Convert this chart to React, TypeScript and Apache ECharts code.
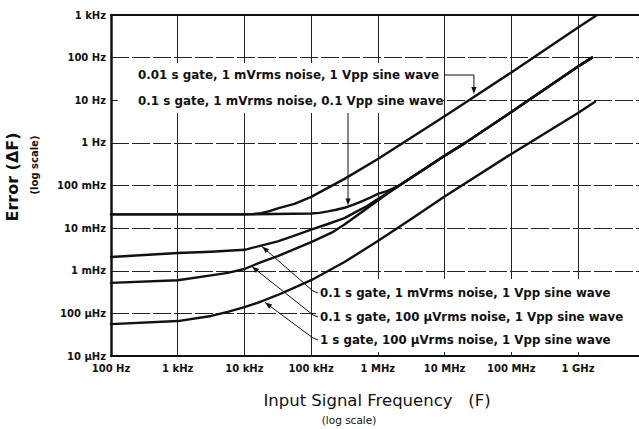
import React, { useEffect, useRef } from "react";
import * as echarts from "echarts";

const FONT = "'DejaVu Sans', 'Liberation Sans', Arial, sans-serif";
const INK = "#111";

// Axis tick labels (one per decade)
const xTickLabels = ["100 Hz", "1 kHz", "10 kHz", "100 kHz", "1 MHz", "10 MHz", "100 MHz", "1 GHz"]; // 10^2 .. 10^9
const xFirstExp = 2;
const yTickLabels = ["10 µHz", "100 µHz", "1 mHz", "10 mHz", "100 mHz", "1 Hz", "10 Hz", "100 Hz", "1 kHz"]; // 10^-5 .. 10^3
const yFirstExp = -5;

const xMin = 100;
const xMax = 8.2e9;
const yMin = 1e-5;
const yMax = 1000;

// 0.01 s gate, 1 mVrms noise, 1 Vpp sine wave
const c1Freq = [100, 1e3, 1e4, 1.33e4, 1.78e4, 2.37e4, 3.16e4, 5.62e4, 1e5, 1.78e5, 3.16e5, 1e6, 1e7, 1e8, 1e9, 1.93e9];
const c1Err = [0.021, 0.021, 0.021, 0.0213, 0.0225, 0.025, 0.029, 0.037, 0.054, 0.088, 0.143, 0.42, 4.2, 45, 510, 1000];

// 0.1 s gate, 1 mVrms noise, 0.1 Vpp sine wave
const c2Freq = [100, 1e3, 1e4, 1e5, 1.33e5, 1.78e5, 2.37e5, 3.16e5, 4.22e5, 5.62e5, 7.5e5, 1e6, 1.33e6, 1.7e6, 2.15e6, 1e7, 2.04e7, 1e8, 1e9, 1.62e9];
const c2Err = [0.021, 0.021, 0.021, 0.022, 0.0228, 0.0247, 0.027, 0.03, 0.035, 0.042, 0.051, 0.0635, 0.073, 0.086, 0.103, 0.5, 1.0, 5.3, 62, 100];

// 0.1 s gate, 1 mVrms noise, 1 Vpp sine wave
const c3Freq = [100, 1e3, 3.16e3, 1e4, 1.78e4, 3.16e4, 5.62e4, 1e5, 1.78e5, 3.16e5, 4.7e5, 6.9e5, 1e6, 1.7e6, 2.15e6, 1e7, 2.04e7, 1e8, 1e9, 1.62e9];
const c3Err = [0.0021, 0.0026, 0.0028, 0.0031, 0.0039, 0.0049, 0.0067, 0.0092, 0.0125, 0.0172, 0.024, 0.033, 0.048, 0.081, 0.103, 0.5, 1.0, 5.3, 62, 100];

// 0.1 s gate, 100 µVrms noise, 1 Vpp sine wave
const c4Freq = [100, 1e3, 3.16e3, 5.62e3, 1e4, 1.78e4, 3.16e4, 5.62e4, 1e5, 2.14e5, 3.16e5, 6.9e5, 1e6, 1.7e6, 2.15e6, 1e7, 2.04e7, 1e8, 1e9, 1.62e9];
const c4Err = [0.00052, 0.0006, 0.00078, 0.00089, 0.0011, 0.0016, 0.0022, 0.0032, 0.0047, 0.0082, 0.0122, 0.0293, 0.0443, 0.08, 0.103, 0.5, 1.0, 5.3, 62, 100];

// 1 s gate, 100 µVrms noise, 1 Vpp sine wave
const c5Freq = [100, 1e3, 3.16e3, 5.62e3, 1e4, 1.78e4, 3.16e4, 5.62e4, 1e5, 3.16e5, 1e6, 3.16e6, 1e7, 1e8, 1e9, 1.8e9];
const c5Err = [0.000056, 0.000066, 0.000087, 0.000108, 0.00014, 0.00019, 0.00027, 0.0004, 0.0006, 0.0016, 0.005, 0.0164, 0.055, 0.55, 5.0, 9.2];

// Annotations: text and the data point each arrow points at
const annoTexts = [
  "0.01 s gate, 1 mVrms noise, 1 Vpp sine wave",
  "0.1 s gate, 1 mVrms noise, 0.1 Vpp sine wave",
  "0.1 s gate, 1 mVrms noise, 1 Vpp sine wave",
  "0.1 s gate, 100 µVrms noise, 1 Vpp sine wave",
  "1 s gate, 100 µVrms noise, 1 Vpp sine wave",
];
const arrowTipFreq = [2.75e7, 3.57e5, 1.84e4, 1.3e4, 2.04e4];
const arrowTipErr = [14, 0.034, 0.0037, 0.00125, 0.00018];

const curves = [
  [c1Freq, c1Err],
  [c2Freq, c2Err],
  [c3Freq, c3Err],
  [c4Freq, c4Err],
  [c5Freq, c5Err],
];

function decadeLabel(v: number, labels: string[], firstExp: number) {
  const l = Math.log10(v);
  const e = Math.round(l);
  if (Math.abs(l - e) > 1e-3) return "";
  return labels[e - firstExp] ?? "";
}

function arrowHead(from: number[], tip: number[], len = 7, half = 2.6) {
  const dx = tip[0] - from[0];
  const dy = tip[1] - from[1];
  const d = Math.hypot(dx, dy) || 1;
  const ux = dx / d;
  const uy = dy / d;
  const bx = tip[0] - ux * len;
  const by = tip[1] - uy * len;
  return {
    type: "polygon",
    z: 4,
    shape: { points: [[tip[0], tip[1]], [bx - uy * half, by + ux * half], [bx + uy * half, by - ux * half]] },
    style: { fill: INK },
  };
}

export default function App() {
  const ref = useRef<HTMLDivElement>(null);

  useEffect(() => {
    if (!ref.current) return;
    const chart = echarts.init(ref.current, null, { renderer: "svg" });
    const option: any = {
      animation: false,
      backgroundColor: "#fff",
      grid: { left: 111, right: 0, top: 15, bottom: 73, containLabel: false, outerBoundsMode: "none" },
      xAxis: [
        {
          type: "log",
          logBase: 10,
          min: xMin,
          max: xMax,
          splitNumber: 10,
          axisLine: { show: true, lineStyle: { color: INK, width: 2 } },
          axisTick: { show: false },
          axisLabel: {
            margin: 7,
            color: INK,
            fontFamily: FONT,
            fontWeight: "bold",
            fontSize: 10,
            formatter: (v: number) => decadeLabel(v, xTickLabels, xFirstExp),
          },
          splitLine: { show: true, lineStyle: { color: "#222", width: 1 } },
          minorTick: { show: false },
          minorSplitLine: { show: false },
        },
        {
          type: "log",
          logBase: 10,
          position: "top",
          min: xMin,
          max: xMax,
          axisLine: { show: true, lineStyle: { color: INK, width: 2 } },
          axisTick: { show: false },
          axisLabel: { show: false },
          splitLine: { show: false },
        },
      ],
      yAxis: {
        type: "log",
        logBase: 10,
        min: yMin,
        max: yMax,
        splitNumber: 10,
        axisLine: { show: true, lineStyle: { color: INK, width: 2.5 } },
        axisTick: { show: false },
        axisLabel: {
          margin: 5,
          color: INK,
          fontFamily: FONT,
          fontWeight: "bold",
          fontSize: 10,
          formatter: (v: number) => decadeLabel(v, yTickLabels, yFirstExp),
        },
        splitLine: { show: true, lineStyle: { color: "#222", width: 1, type: [18, 3] } },
      },
      series: curves.map(([f, e], i) => ({
        type: "line",
        name: annoTexts[i],
        xAxisIndex: 0,
        data: f.map((x, k) => [x, e[k]]),
        showSymbol: false,
        symbol: "none",
        smooth: false,
        lineStyle: { color: INK, width: 2.4, join: "round", cap: "round" },
        z: 2,
      })),
    };
    chart.setOption(option);

    const px = (f: number, v: number) => chart.convertToPixel({ gridIndex: 0 } as any, [f, v]) as number[];
    const tips = arrowTipFreq.map((f, i) => px(f, arrowTipErr[i]));

    const textStyle = (text: string, size: number, weight: string, align = "left") => ({
      text,
      fill: INK,
      fontFamily: FONT,
      fontSize: size,
      fontWeight: weight,
      align,
      verticalAlign: "middle",
    });

    const graphic: any[] = [];
    // white boxes behind the annotation texts
    graphic.push({ type: "rect", z: 1, shape: { x: 118, y: 63, width: 325, height: 50 }, style: { fill: "#fff" } });
    graphic.push({ type: "rect", z: 1, shape: { x: 316, y: 279, width: 330, height: 73 }, style: { fill: "#fff" } });

    // upper-left labels
    graphic.push({ type: "text", z: 5, x: 138, y: 75, style: textStyle(annoTexts[0], 11.9, "bold") });
    graphic.push({ type: "text", z: 5, x: 138, y: 101, style: textStyle(annoTexts[1], 11.9, "bold") });

    // bracket arrow of label 1
    const t0 = tips[0];
    graphic.push({
      type: "polyline",
      z: 4,
      shape: { points: [[445, 75], [t0[0], 75], [t0[0], t0[1] - 3]] },
      style: { stroke: INK, lineWidth: 1, fill: "none" },
    });
    graphic.push(arrowHead([t0[0], 75], t0));

    // vertical arrow of label 2
    const t1 = tips[1];
    graphic.push({
      type: "line",
      z: 4,
      shape: { x1: t1[0], y1: 113, x2: t1[0], y2: t1[1] - 3 },
      style: { stroke: INK, lineWidth: 1 },
    });
    graphic.push(arrowHead([t1[0], 113], t1));

    // lower-right labels with arrows
    const lowY = [293, 317, 340];
    lowY.forEach((ly, k) => {
      const idx = k + 2;
      const tip = tips[idx];
      graphic.push({ type: "text", z: 5, x: 320, y: ly, style: textStyle(annoTexts[idx], 11.8, "bold") });
      graphic.push({
        type: "polyline",
        z: 4,
        shape: { points: [[318, ly], [313, ly - 2], tip] },
        style: { stroke: INK, lineWidth: 1, fill: "none" },
      });
      graphic.push(arrowHead([313, ly - 2], tip));
    });

    // axis titles
    graphic.push({ type: "text", z: 5, x: 12, y: 177, rotation: Math.PI / 2, style: textStyle("Error (ΔF)", 16, "bold", "center") });
    graphic.push({ type: "text", z: 5, x: 34, y: 165, rotation: Math.PI / 2, style: textStyle("(log scale)", 10, "bold", "center") });
    graphic.push({ type: "text", z: 5, x: 377, y: 400, style: textStyle("Input Signal Frequency \u00a0\u00a0(F)", 16.5, "normal", "center") });
    graphic.push({ type: "text", z: 5, x: 349, y: 420, style: textStyle("(log scale)", 10.5, "normal", "center") });

    chart.setOption({ graphic });

    return () => chart.dispose();
  }, []);

  return <div ref={ref} style={{ position: "fixed", left: 0, top: 0, width: 639, height: 429 }} />;
}
